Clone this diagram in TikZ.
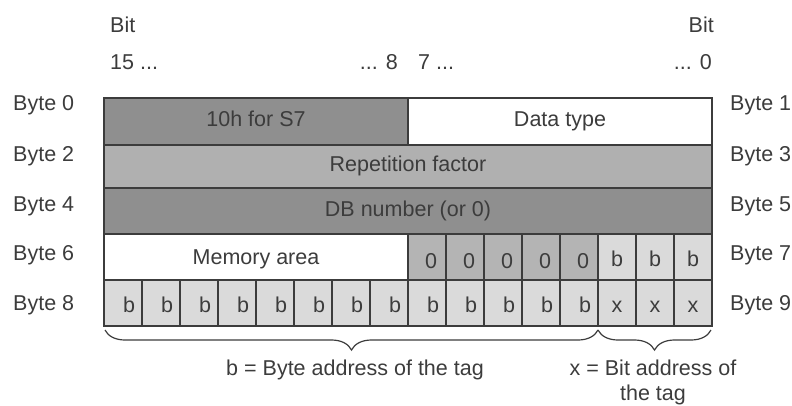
\documentclass[tikz,border=0pt]{standalone}
\usepackage{fontspec}
\setmainfont{Liberation Sans}
\usetikzlibrary{decorations.pathreplacing}

\definecolor{darkcell}{HTML}{8F8F8F}
\definecolor{midcell}{HTML}{B0B0B0}
\definecolor{zerocell}{HTML}{B4B4B4}
\definecolor{lightcell}{HTML}{DADADA}
\definecolor{inkgray}{HTML}{3C3C3C}

\tikzset{
  grid line/.style={draw=inkgray, line width=1.4pt},
  plain text/.style={font=\fontsize{21.5}{25}\selectfont, text=inkgray, inner sep=0pt},
  brace line/.style={draw=inkgray, line width=1.2pt, decorate,
    decoration={brace, mirror, amplitude=20pt}},
}

\begin{document}
\begin{tikzpicture}[x=1pt, y=-1pt]
\useasboundingbox (0,0) rectangle (792,405);
% cell fills
\fill[darkcell] (104,98) rectangle (408,145);
\fill[white] (408,98) rectangle (712,145);
\fill[midcell] (104,145) rectangle (712,188);
\fill[darkcell] (104,188) rectangle (712,234);
\fill[white] (104,234) rectangle (408,280);
\fill[zerocell] (408,234) rectangle (598,280);
\fill[lightcell] (598,234) rectangle (712,280);
\fill[lightcell] (104,280) rectangle (712,326);
% grid
\draw[grid line] (104,98) rectangle (712,326);
\foreach \y in {145,188,234,280}
  \draw[grid line] (104,\y) -- (712,\y);
\draw[grid line] (408,98) -- (408,145);
\foreach \i in {8,...,15}
  \draw[grid line] ({104+38*\i},234) -- ({104+38*\i},280);
\foreach \i in {1,...,15}
  \draw[grid line] ({104+38*\i},280) -- ({104+38*\i},326);

% bit numbers
\node[plain text, anchor=west] (bitl) at (110,25) {Bit};
\node[plain text, anchor=east] (bitr) at (714,25) {Bit};
\node[plain text, anchor=west] (b15) at (110,62) {15 ...};
\node[plain text, anchor=east] (b8) at (398,62) {... 8};
\node[plain text, anchor=west] (b7) at (418,62) {7 ...};
\node[plain text, anchor=east] (b0) at (712,62) {... 0};

% byte labels
\foreach \n/\m/\y in {0/1/105,2/3/156,4/5/206,6/7/255,8/9/305}{
  \node[plain text, anchor=west] (byte\n) at (13,\y) {Byte \n};
  \node[plain text, anchor=west] (byte\m) at (730,\y) {Byte \m};
}

% field texts
\node[plain text] (s7) at (256,119) {10h for S7};
\node[plain text] (dtype) at (560,121) {Data type};
\node[plain text] (repeat) at (408,166) {Repetition factor};
\node[plain text] (dbnum) at (408,211) {DB number (or 0)};
\node[plain text] (memarea) at (256,259) {Memory area};
\foreach \i in {8,...,12}
  \node[plain text] (zero\i) at ({104+38*\i+23},261) {0};
\foreach \i in {13,14,15}
  \node[plain text] (hib\i) at ({104+38*\i+19},259) {b};
\foreach \i in {0,...,12}
  \node[plain text] (lob\i) at ({104+38*\i+25},305) {b};
\foreach \i in {13,14,15}
  \node[plain text] (bitx\i) at ({104+38*\i+19},307) {x};

% braces
\coordinate (bytestart) at (105,330);
\coordinate (bytesplit) at (598,330);
\coordinate (bitend) at (711,330);
\draw[brace line] (bytestart) -- (bytesplit);
\draw[brace line] (bytesplit) -- (bitend);
\node[plain text] (bytenote) at (355,370) {b = Byte address of the tag};
\node[plain text, align=center] (bitnote) at (653,382) {x = Bit address of\\the tag};
\end{tikzpicture}
\end{document}
